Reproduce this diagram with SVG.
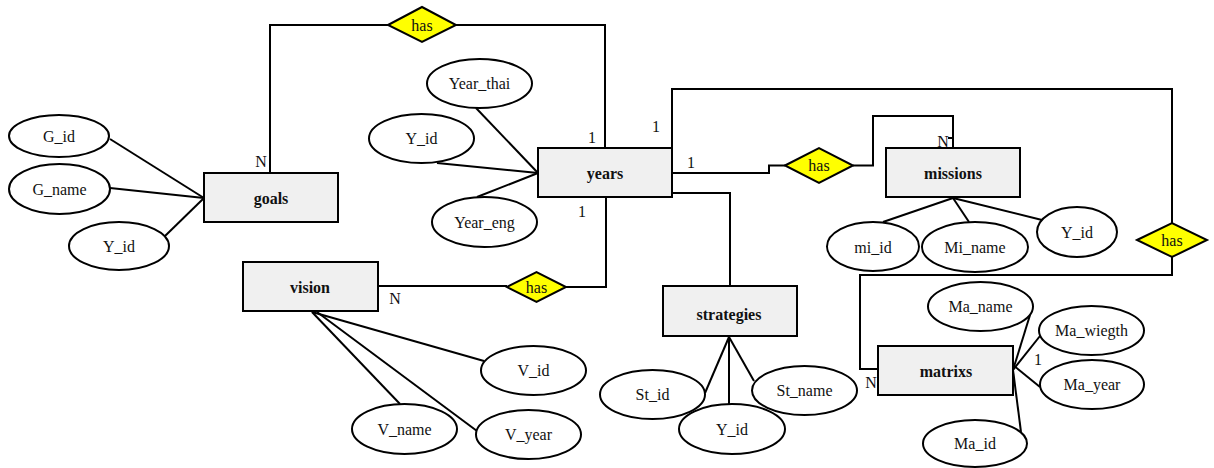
<svg xmlns="http://www.w3.org/2000/svg" width="1214" height="468" viewBox="0 0 1214 468">
  <style>
    .ent { fill: #f0f0f0; stroke: #000; stroke-width: 2; }
    .att { fill: #fff; stroke: #000; stroke-width: 2; }
    .rel { fill: #ffff00; stroke: #000; stroke-width: 2; }
    .ln { fill: none; stroke: #000; stroke-width: 2; }
    text { font-family: "Liberation Serif", "Times New Roman", serif; font-size: 16px; fill: #111; }
    .c { text-anchor: middle; }
    .b { font-weight: bold; }
  </style>
  <rect width="1214" height="468" fill="#fff"/>

  <!-- connectors -->
  <g id="connectors">
    <!-- goals to years -->
    <polyline class="ln" points="270,173 270,25 388,25"/>
    <polyline class="ln" points="456,25 605,25 605,148"/>
    <!-- years to missions -->
    <polyline class="ln" points="672,173 769,173 769,165.5 785,165.5"/>
    <polyline class="ln" points="853,165.5 873,165.5 873,116 953,116 953,148"/>
    <line class="ln" x1="948" y1="138" x2="953" y2="138" stroke-width="1.5"/>
    <!-- years to matrixs -->
    <polyline class="ln" points="672,148 672,89 1172,89 1172,223"/>
    <polyline class="ln" points="1172,257 1172,275 860,275 860,369 878,369"/>
    <!-- years to strategies -->
    <polyline class="ln" points="672,193 730,193 730,286"/>
    <!-- years to vision -->
    <polyline class="ln" points="378,286 507,286"/>
    <polyline class="ln" points="566,287 606,287 606,197"/>

    <!-- goals attributes -->
    <line class="ln" x1="110" y1="139" x2="204" y2="198"/>
    <line class="ln" x1="110" y1="188" x2="204" y2="198"/>
    <line class="ln" x1="165" y1="236" x2="204" y2="198"/>
    <!-- years attributes -->
    <line class="ln" x1="476" y1="108" x2="538" y2="173"/>
    <line class="ln" x1="437" y1="163" x2="538" y2="173"/>
    <line class="ln" x1="477" y1="197" x2="538" y2="173"/>
    <!-- missions attributes -->
    <line class="ln" x1="883" y1="222" x2="953" y2="198"/>
    <line class="ln" x1="969" y1="222" x2="953" y2="198"/>
    <line class="ln" x1="1042" y1="220" x2="953" y2="198"/>
    <!-- vision attributes -->
    <line class="ln" x1="312" y1="312" x2="484" y2="361"/>
    <line class="ln" x1="312" y1="312" x2="400" y2="404"/>
    <line class="ln" x1="317" y1="312" x2="477" y2="431"/>
    <!-- strategies attributes -->
    <line class="ln" x1="729" y1="337" x2="705" y2="393"/>
    <line class="ln" x1="729" y1="337" x2="729" y2="404"/>
    <line class="ln" x1="729" y1="337" x2="754" y2="381"/>
    <!-- matrixs attributes -->
    <line class="ln" x1="1013" y1="370" x2="1030" y2="315"/>
    <line class="ln" x1="1013" y1="370" x2="1040" y2="336"/>
    <line class="ln" x1="1013" y1="365" x2="1040" y2="387"/>
    <line class="ln" x1="1013" y1="370" x2="1021" y2="432"/>
  </g>

  <!-- cardinality labels -->
  <g id="cardinality">
    <text class="c" x="261" y="167">N</text>
    <text class="c" x="592" y="143">1</text>
    <text class="c" x="656" y="132">1</text>
    <text class="c" x="691" y="168">1</text>
    <text class="c" x="582" y="217">1</text>
    <text class="c" x="395" y="304">N</text>
    <text class="c" x="742" y="299">N</text>
    <text class="c" x="943" y="147">N</text>
    <text class="c" x="871" y="388">N</text>
    <text class="c" x="1038" y="365">1</text>
  </g>

  <!-- relationships -->
  <g id="rel-goals-years">
    <polygon class="rel" points="388,25 422,7 456,25 422,42"/>
    <text class="c" x="422" y="30.5">has</text>
  </g>
  <g id="rel-years-missions">
    <polygon class="rel" points="785,165.5 819,148 853,165.5 819,183"/>
    <text class="c" x="819" y="171">has</text>
  </g>
  <g id="rel-years-matrixs">
    <polygon class="rel" points="1137,240 1172,223 1207,240 1172,257"/>
    <text class="c" x="1172" y="245.5">has</text>
  </g>
  <g id="rel-years-vision">
    <polygon class="rel" points="507,287 536.5,272 566,287 536.5,302"/>
    <text class="c" x="536.5" y="292.5">has</text>
  </g>

  <!-- entities -->
  <g id="goals">
    <rect class="ent" x="204" y="173" width="134" height="49"/>
    <text class="c b" x="271" y="204">goals</text>
  </g>
  <g id="years">
    <rect class="ent" x="538" y="148" width="134" height="49"/>
    <text class="c b" x="605" y="179">years</text>
  </g>
  <g id="missions">
    <rect class="ent" x="886" y="148" width="134" height="49"/>
    <text class="c b" x="953" y="179">missions</text>
  </g>
  <g id="vision">
    <rect class="ent" x="243" y="262" width="135" height="49"/>
    <text class="c b" x="310" y="293">vision</text>
  </g>
  <g id="strategies">
    <rect class="ent" x="663" y="286" width="134" height="50"/>
    <text class="c b" x="729" y="320">strategies</text>
  </g>
  <g id="matrixs">
    <rect class="ent" x="878" y="346" width="135" height="49"/>
    <text class="c b" x="946" y="377">matrixs</text>
  </g>

  <!-- goals attributes -->
  <g id="goals-G_id">
    <ellipse class="att" cx="59" cy="136" rx="50" ry="21"/>
    <text class="c" x="59" y="141.5">G_id</text>
  </g>
  <g id="goals-G_name">
    <ellipse class="att" cx="59.5" cy="189" rx="50.5" ry="25"/>
    <text class="c" x="59.5" y="194.5">G_name</text>
  </g>
  <g id="goals-Y_id">
    <ellipse class="att" cx="119" cy="246" rx="50" ry="24"/>
    <text class="c" x="119" y="251.5">Y_id</text>
  </g>

  <!-- years attributes -->
  <g id="years-Year_thai">
    <ellipse class="att" cx="479.5" cy="83.5" rx="52.5" ry="24.5"/>
    <text class="c" x="479.5" y="89">Year_thai</text>
  </g>
  <g id="years-Y_id">
    <ellipse class="att" cx="421.5" cy="138.5" rx="52.5" ry="24.5"/>
    <text class="c" x="421.5" y="144">Y_id</text>
  </g>
  <g id="years-Year_eng">
    <ellipse class="att" cx="484.5" cy="222" rx="52.5" ry="25"/>
    <text class="c" x="484.5" y="227.5">Year_eng</text>
  </g>

  <!-- missions attributes -->
  <g id="missions-mi_id">
    <ellipse class="att" cx="873" cy="246.5" rx="46" ry="24.5"/>
    <text class="c" x="873" y="253">mi_id</text>
  </g>
  <g id="missions-Mi_name">
    <ellipse class="att" cx="975" cy="247" rx="53" ry="25"/>
    <text class="c" x="975" y="253">Mi_name</text>
  </g>
  <g id="missions-Y_id">
    <ellipse class="att" cx="1077" cy="232" rx="40" ry="25"/>
    <text class="c" x="1077" y="237.5">Y_id</text>
  </g>

  <!-- vision attributes -->
  <g id="vision-V_id">
    <ellipse class="att" cx="533.5" cy="370.5" rx="52.5" ry="24.5"/>
    <text class="c" x="533.5" y="376">V_id</text>
  </g>
  <g id="vision-V_name">
    <ellipse class="att" cx="404.5" cy="429" rx="52.5" ry="25"/>
    <text class="c" x="404.5" y="434.5">V_name</text>
  </g>
  <g id="vision-V_year">
    <ellipse class="att" cx="528.5" cy="434.5" rx="52.5" ry="24.5"/>
    <text class="c" x="528.5" y="440">V_year</text>
  </g>

  <!-- strategies attributes -->
  <g id="strategies-St_id">
    <ellipse class="att" cx="652.5" cy="394.5" rx="52.5" ry="24.5"/>
    <text class="c" x="652.5" y="400">St_id</text>
  </g>
  <g id="strategies-Y_id">
    <ellipse class="att" cx="732" cy="429" rx="53" ry="25"/>
    <text class="c" x="732" y="434.5">Y_id</text>
  </g>
  <g id="strategies-St_name">
    <ellipse class="att" cx="804.5" cy="390.5" rx="52.5" ry="24.5"/>
    <text class="c" x="804.5" y="396">St_name</text>
  </g>

  <!-- matrixs attributes -->
  <g id="matrixs-Ma_name">
    <ellipse class="att" cx="980.5" cy="306.5" rx="52.5" ry="24.5"/>
    <text class="c" x="980.5" y="312">Ma_name</text>
  </g>
  <g id="matrixs-Ma_wiegth">
    <ellipse class="att" cx="1091.5" cy="330.5" rx="52.5" ry="24.5"/>
    <text class="c" x="1091.5" y="336">Ma_wiegth</text>
  </g>
  <g id="matrixs-Ma_year">
    <ellipse class="att" cx="1092" cy="384.5" rx="52" ry="24.5"/>
    <text class="c" x="1092" y="390">Ma_year</text>
  </g>
  <g id="matrixs-Ma_id">
    <ellipse class="att" cx="975" cy="443.5" rx="52" ry="23.5"/>
    <text class="c" x="975" y="449">Ma_id</text>
  </g>
</svg>
